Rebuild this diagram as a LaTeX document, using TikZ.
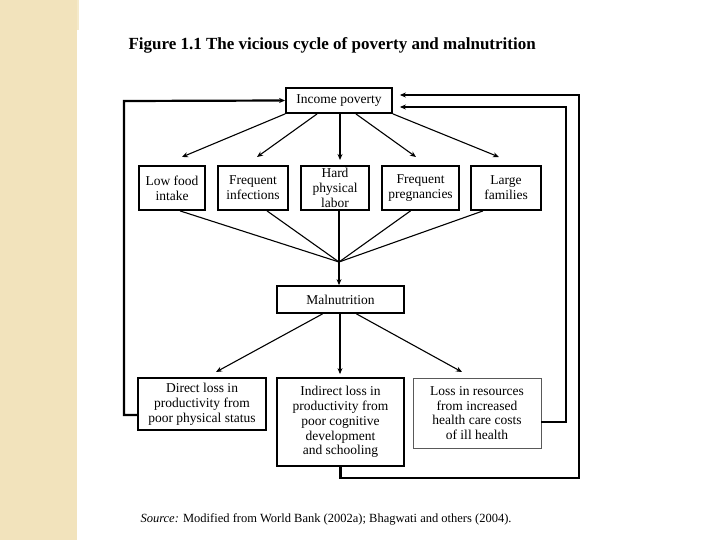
\documentclass[tikz,border=0pt]{standalone}
\usepackage{fontspec}
\setmainfont{Liberation Serif}
\usetikzlibrary{arrows.meta,calc}
\definecolor{strip}{HTML}{F2E3BC}
\definecolor{striptop}{HTML}{F5EACB}
\begin{document}
\begin{tikzpicture}[x=1pt,y=-1pt,
  box/.style={draw=black, line width=1.8pt, align=center, inner sep=0pt,
    font=\fontsize{13.5}{14.8}\selectfont},
  thinbox/.style={box, draw=black!65, line width=0.9pt},
  arr/.style={line width=1.1pt, -{Stealth[length=6pt,width=5pt]}},
  varr/.style={line width=1.8pt, -{Stealth[length=6pt,width=5pt]}},
  ln/.style={line width=1.1pt},
  loop/.style={line width=2.2pt, -{Stealth[length=6pt,width=5pt]}}]
\useasboundingbox (0,0) rectangle (720,540);
\fill[white] (0,0) rectangle (720,540);
\fill[strip] (0,0) rectangle (77,540);
\fill[striptop] (77,0) rectangle (79,30);

\node[anchor=base west, font=\bfseries\fontsize{17}{20}\selectfont] (title) at (125,50)
  {Figure 1.1 The vicious cycle of poverty and malnutrition};

\node[box, minimum width=106pt, minimum height=25pt] (inc) at (339,100.5) {Income poverty};

\node[box, minimum width=66pt, minimum height=44pt] (low) at (172,188) {Low food\\intake};
\node[box, minimum width=70pt, minimum height=44pt] (inf) at (253,188) {Frequent\\infections};
\node[box, minimum width=68pt, minimum height=44pt] (hard) at (335,188) {Hard\\physical\\labor};
\node[box, minimum width=77pt, minimum height=44pt] (preg) at (420.5,188) {Frequent\\pregnancies};
\node[box, minimum width=70pt, minimum height=44pt] (fam) at (506,188) {Large\\families};

\node[box, minimum width=127pt, minimum height=27pt] (mal) at (340.5,299.5) {Malnutrition};

\node[box, minimum width=128pt, minimum height=52pt] (dir) at (202,404)
  {Direct loss in\\productivity from\\poor physical status};
\node[box, minimum width=127pt, minimum height=88pt] (ind) at (340.5,422)
  {Indirect loss in\\productivity from\\poor cognitive\\development\\and schooling};
\node[thinbox, minimum width=128pt, minimum height=70pt] (res) at (477,413)
  {Loss in resources\\from increased\\health care costs\\of ill health};

% tips of arrows from income poverty
\coordinate (t1) at (182,157);
\coordinate (t2) at (257,157);
\coordinate (t3) at (340,160);
\coordinate (t4) at (416,157);
\coordinate (t5) at (499,157);
\draw[arr] (inc.south west) -- (t1);
\draw[arr] ($(inc.south west)+(32,0)$) -- (t2);
\draw[varr] ($(inc.south)+(1,0)$) -- (t3);
\draw[arr] ($(inc.south east)+(-37,0)$) -- (t4);
\draw[arr] (inc.south east) -- (t5);

% convergence
\coordinate (conv) at (339,262);
\draw[ln] ($(low.south)+(8,0)$) -- (conv);
\draw[ln] ($(inf.south)+(14,0)$) -- (conv);
\draw[ln] ($(hard.south)+(4,0)$) -- (conv);
\draw[ln] ($(preg.south)+(-10,0)$) -- (conv);
\draw[ln] ($(fam.south)+(-23,0)$) -- (conv);
\draw[arr] (conv) -- ($(mal.north)+(-1.5,0)$);

% from malnutrition
\coordinate (m1) at (216,372);
\coordinate (m3) at (462,372);
\draw[arr] ($(mal.south)+(-18,0)$) -- (m1);
\draw[varr] ($(mal.south)+(-0.5,0)$) -- ($(ind.north)+(-0.5,-3)$);
\draw[arr] ($(mal.south)+(16,0)$) -- (m3);

% feedback loops
\draw[loop] ($(dir.west)+(0,11)$) -- (124,415) -- (124,101) -- (inc.west);
\draw[loop] (res.east |- 0,422) -- (566,422) -- (566,107) -- ($(inc.east)+(7,6.5)$);
\draw[loop] (ind.south) -- (340.5,478) -- (579,478) -- (579,95) -- ($(inc.east)+(7,-5.5)$);

\node[anchor=base west, font=\fontsize{12.5}{15}\selectfont] (src) at (137,522)
  {\textit{Source:} Modified from World Bank (2002a); Bhagwati and others (2004).};
\end{tikzpicture}
\end{document}
